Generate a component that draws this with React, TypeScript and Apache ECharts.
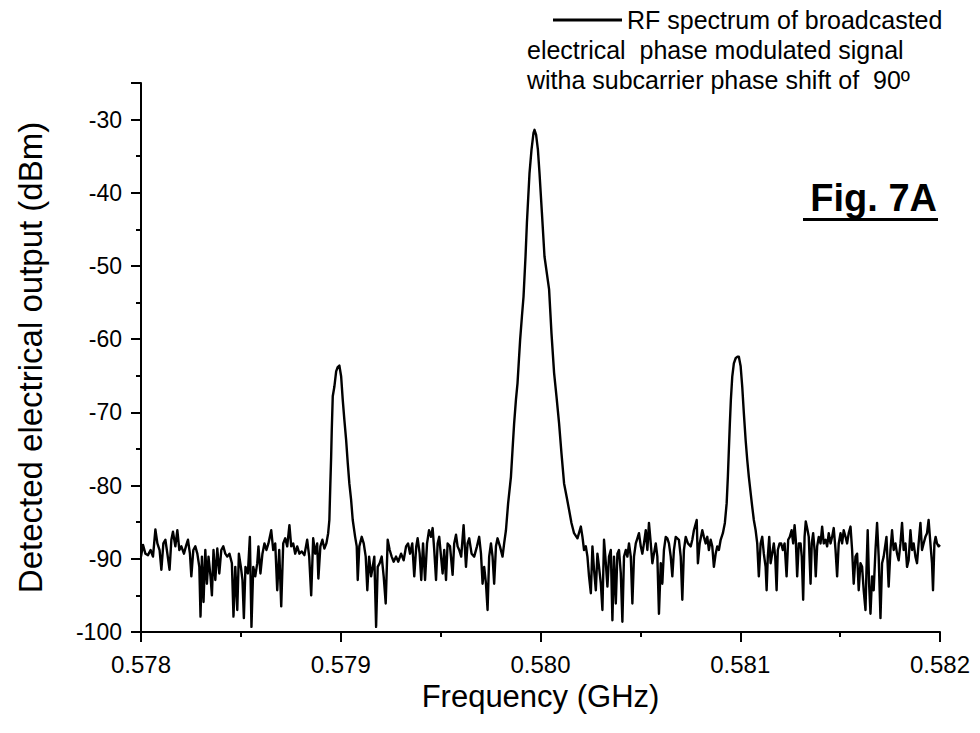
import React, { useEffect, useRef } from "react";
import * as echarts from "echarts";

const FONT = '"Liberation Sans", Arial, Helvetica, sans-serif';

const xTickLabels = ["0.578", "0.579", "0.580", "0.581", "0.582"];
const yTickLabels = ["-100", "-90", "-80", "-70", "-60", "-50", "-40", "-30"];

const legendLines = [
  "RF spectrum of broadcasted",
  "electrical  phase modulated signal",
  "witha subcarrier phase shift of  90º",
];

// Segment A: 0.578 → left sideband peak
const freqA = [0.578000, 0.578010, 0.578022, 0.578035, 0.578048, 0.578060, 0.578072, 0.578082, 0.578093, 0.578102, 0.578112, 0.578122, 0.578132, 0.578143, 0.578152, 0.578160, 0.578172, 0.578182, 0.578192, 0.578202, 0.578215, 0.578227, 0.578235, 0.578245, 0.578252, 0.578262, 0.578272, 0.578282, 0.578292, 0.578298, 0.578305, 0.578313, 0.578322, 0.578330, 0.578338, 0.578348, 0.578355, 0.578363, 0.578372, 0.578382, 0.578392, 0.578402, 0.578412, 0.578422, 0.578432, 0.578443, 0.578455, 0.578463, 0.578472, 0.578482, 0.578490, 0.578500, 0.578508, 0.578515, 0.578523, 0.578535, 0.578545, 0.578553, 0.578562, 0.578572, 0.578582, 0.578588, 0.578598, 0.578608, 0.578618, 0.578628, 0.578638, 0.578652, 0.578662, 0.578672, 0.578682, 0.578692, 0.578702, 0.578712, 0.578722, 0.578732, 0.578743, 0.578752, 0.578762, 0.578772, 0.578782, 0.578793, 0.578805, 0.578818, 0.578832, 0.578842, 0.578852, 0.578862, 0.578872, 0.578882, 0.578888, 0.578898, 0.578908, 0.578918, 0.578928, 0.578937, 0.578943, 0.578948, 0.578952, 0.578955, 0.578960, 0.578968, 0.578977, 0.578985, 0.578993];
const levelA = [-89.7, -88.1, -89.3, -89.5, -88.8, -89.7, -86.0, -87.9, -88.8, -91.5, -87.9, -87.4, -89.3, -91.5, -87.4, -86.3, -88.3, -86.1, -88.8, -88.3, -89.3, -88.1, -87.4, -89.3, -92.4, -88.8, -88.3, -89.3, -91.1, -97.9, -89.7, -95.9, -88.8, -93.4, -89.7, -92.4, -95.0, -88.8, -92.9, -88.6, -92.0, -88.8, -88.3, -89.3, -89.7, -89.3, -90.6, -97.9, -91.1, -97.0, -89.3, -91.1, -92.9, -98.1, -91.1, -92.0, -87.0, -99.3, -91.1, -92.4, -90.6, -88.3, -92.0, -89.3, -87.9, -88.8, -87.9, -86.1, -88.8, -87.9, -94.3, -88.8, -96.5, -87.9, -87.2, -88.3, -85.4, -88.3, -87.9, -89.3, -88.3, -89.3, -89.0, -89.5, -87.4, -89.7, -95.0, -87.2, -89.3, -87.9, -92.7, -88.3, -87.4, -88.6, -87.9, -86.5, -84.7, -79.7, -76.0, -72.4, -67.8, -66.5, -64.4, -63.8, -63.6];

// Segment B: left sideband → carrier rising edge
const freqB = [0.579002, 0.579010, 0.579018, 0.579027, 0.579035, 0.579043, 0.579052, 0.579060, 0.579072, 0.579080, 0.579085, 0.579093, 0.579105, 0.579115, 0.579125, 0.579133, 0.579142, 0.579152, 0.579160, 0.579168, 0.579177, 0.579185, 0.579195, 0.579205, 0.579215, 0.579225, 0.579235, 0.579245, 0.579255, 0.579265, 0.579277, 0.579288, 0.579302, 0.579315, 0.579327, 0.579337, 0.579347, 0.579358, 0.579368, 0.579378, 0.579385, 0.579395, 0.579403, 0.579412, 0.579422, 0.579432, 0.579442, 0.579452, 0.579460, 0.579468, 0.579477, 0.579485, 0.579493, 0.579502, 0.579510, 0.579518, 0.579527, 0.579535, 0.579547, 0.579560, 0.579568, 0.579577, 0.579585, 0.579593, 0.579603, 0.579615, 0.579627, 0.579635, 0.579643, 0.579655, 0.579668, 0.579682, 0.579693, 0.579702, 0.579710, 0.579718, 0.579727, 0.579735, 0.579743, 0.579752, 0.579760, 0.579768, 0.579777, 0.579785, 0.579797, 0.579810, 0.579818, 0.579827, 0.579838, 0.579852, 0.579860, 0.579868, 0.579877, 0.579885, 0.579892, 0.579898, 0.579907, 0.579915];
const levelB = [-65.1, -68.3, -71.0, -73.8, -76.9, -79.7, -82.0, -84.7, -87.0, -88.3, -92.9, -88.3, -87.0, -87.9, -89.7, -94.3, -89.7, -92.4, -91.1, -89.7, -99.3, -91.1, -90.6, -89.7, -92.4, -96.1, -87.4, -88.8, -89.7, -90.4, -89.7, -90.4, -89.3, -90.2, -88.3, -87.9, -89.3, -87.9, -92.4, -88.3, -87.2, -89.3, -92.9, -87.9, -92.9, -87.9, -86.1, -87.0, -85.8, -88.8, -92.9, -87.9, -87.0, -89.7, -92.0, -88.8, -92.9, -87.9, -88.3, -92.2, -87.9, -86.7, -88.3, -88.8, -89.7, -85.4, -91.1, -87.9, -87.2, -89.3, -89.7, -88.3, -87.0, -89.3, -93.4, -91.1, -93.4, -97.0, -89.7, -87.9, -89.7, -93.4, -88.3, -87.2, -88.3, -89.7, -87.9, -86.1, -82.4, -78.8, -75.1, -71.5, -68.3, -66.0, -62.8, -60.1, -56.9, -54.2];

// Carrier peak top
const freqPeak = [0.579925, 0.579932, 0.579945, 0.579955, 0.579965, 0.579970, 0.579978, 0.579987, 0.579995, 0.580007, 0.580020];
const levelPeak = [-48.7, -44.1, -37.3, -34.1, -31.8, -31.4, -32.1, -34.1, -37.3, -42.7, -48.7];

// Segment C: carrier falling edge → right sideband peak
const freqC = [0.580043, 0.580055, 0.580068, 0.580080, 0.580093, 0.580105, 0.580118, 0.580132, 0.580143, 0.580155, 0.580168, 0.580185, 0.580202, 0.580210, 0.580218, 0.580227, 0.580235, 0.580243, 0.580252, 0.580260, 0.580268, 0.580277, 0.580285, 0.580293, 0.580302, 0.580310, 0.580318, 0.580327, 0.580335, 0.580343, 0.580352, 0.580360, 0.580368, 0.580377, 0.580385, 0.580393, 0.580402, 0.580410, 0.580418, 0.580427, 0.580435, 0.580443, 0.580452, 0.580460, 0.580468, 0.580477, 0.580485, 0.580493, 0.580502, 0.580510, 0.580518, 0.580527, 0.580535, 0.580543, 0.580552, 0.580560, 0.580568, 0.580577, 0.580585, 0.580593, 0.580602, 0.580610, 0.580618, 0.580627, 0.580635, 0.580643, 0.580652, 0.580660, 0.580668, 0.580677, 0.580685, 0.580693, 0.580702, 0.580710, 0.580718, 0.580727, 0.580738, 0.580752, 0.580760, 0.580768, 0.580782, 0.580788, 0.580797, 0.580810, 0.580818, 0.580827, 0.580835, 0.580843, 0.580852, 0.580860, 0.580868, 0.580877, 0.580885, 0.580893, 0.580902, 0.580913, 0.580923, 0.580932, 0.580938, 0.580943, 0.580948, 0.580953, 0.580960, 0.580968, 0.580977, 0.580985];
const levelC = [-53.2, -59.2, -64.6, -67.8, -71.5, -75.6, -79.7, -81.7, -83.3, -85.1, -86.5, -87.2, -85.6, -87.0, -88.8, -88.3, -89.7, -92.4, -94.7, -88.3, -91.5, -94.3, -89.3, -91.1, -93.4, -97.0, -87.4, -90.6, -93.8, -89.7, -88.8, -98.4, -89.7, -96.1, -89.3, -88.8, -92.0, -98.6, -89.7, -88.8, -89.7, -87.9, -89.7, -96.1, -89.7, -87.9, -87.2, -86.5, -88.3, -89.3, -87.9, -86.1, -88.8, -85.1, -87.9, -90.6, -89.3, -87.9, -89.7, -97.5, -90.6, -93.4, -88.8, -87.0, -87.2, -87.9, -89.7, -92.4, -88.8, -87.0, -87.2, -87.4, -89.7, -95.6, -88.8, -87.0, -87.9, -88.3, -87.4, -86.1, -84.7, -90.6, -87.9, -86.1, -87.0, -87.9, -87.0, -88.8, -87.4, -88.3, -91.1, -89.3, -88.3, -88.8, -87.4, -86.5, -85.1, -82.4, -78.8, -75.1, -71.5, -68.3, -65.1, -63.3, -62.6, -62.4];

// Segment D: right sideband → 0.582
const freqD = [0.580993, 0.581002, 0.581010, 0.581018, 0.581027, 0.581035, 0.581043, 0.581052, 0.581060, 0.581068, 0.581077, 0.581085, 0.581093, 0.581102, 0.581110, 0.581118, 0.581127, 0.581132, 0.581138, 0.581145, 0.581152, 0.581160, 0.581168, 0.581175, 0.581182, 0.581188, 0.581197, 0.581205, 0.581213, 0.581222, 0.581232, 0.581240, 0.581248, 0.581257, 0.581265, 0.581272, 0.581278, 0.581285, 0.581293, 0.581302, 0.581308, 0.581315, 0.581322, 0.581328, 0.581337, 0.581343, 0.581352, 0.581358, 0.581365, 0.581372, 0.581378, 0.581385, 0.581393, 0.581402, 0.581410, 0.581418, 0.581427, 0.581435, 0.581443, 0.581452, 0.581460, 0.581468, 0.581477, 0.581485, 0.581493, 0.581502, 0.581510, 0.581518, 0.581527, 0.581535, 0.581543, 0.581552, 0.581560, 0.581568, 0.581577, 0.581585, 0.581593, 0.581602, 0.581610, 0.581618, 0.581627, 0.581632, 0.581638, 0.581645, 0.581652, 0.581660, 0.581668, 0.581677, 0.581685, 0.581693, 0.581702, 0.581710, 0.581718, 0.581732, 0.581743, 0.581752, 0.581760, 0.581768, 0.581777, 0.581785, 0.581793, 0.581802, 0.581810, 0.581818, 0.581827, 0.581835, 0.581843, 0.581852, 0.581860, 0.581868, 0.581877, 0.581885, 0.581893, 0.581902, 0.581910, 0.581918, 0.581927, 0.581935, 0.581943, 0.581952, 0.581960, 0.581965, 0.581972, 0.581978, 0.581985, 0.581993, 0.582000];
const levelD = [-62.4, -63.7, -66.5, -70.1, -73.8, -76.5, -78.8, -81.0, -82.9, -84.7, -86.1, -87.9, -92.4, -87.9, -87.0, -89.3, -91.1, -94.3, -89.7, -87.0, -90.6, -89.3, -87.9, -89.7, -94.3, -88.8, -87.9, -87.9, -88.8, -87.9, -92.4, -87.4, -87.0, -86.1, -87.9, -85.4, -87.4, -92.4, -87.9, -87.9, -89.7, -95.6, -87.0, -84.9, -86.1, -87.0, -93.4, -87.9, -86.5, -88.8, -92.4, -88.3, -87.0, -87.9, -85.6, -87.9, -87.4, -88.3, -86.5, -87.9, -87.0, -85.8, -88.8, -92.4, -87.9, -86.5, -87.9, -86.1, -87.0, -87.9, -86.5, -85.6, -88.8, -93.4, -89.7, -89.3, -94.3, -90.6, -91.1, -94.3, -97.0, -91.5, -86.1, -93.4, -97.5, -92.4, -94.3, -88.8, -85.1, -89.7, -98.1, -90.6, -89.7, -87.0, -93.8, -88.8, -86.1, -88.8, -87.9, -89.3, -90.2, -87.9, -85.1, -88.8, -87.9, -91.1, -90.2, -86.1, -88.8, -87.9, -89.7, -90.6, -87.9, -85.1, -88.8, -87.9, -87.0, -86.5, -84.7, -87.9, -90.6, -94.3, -87.9, -87.0, -87.9, -88.3, -88.1];

function pairs(f: number[], v: number[]): number[][] {
  const out: number[][] = [];
  for (let i = 0; i < Math.min(f.length, v.length); i++) out.push([f[i], v[i]]);
  return out;
}

export default function App() {
  const ref = useRef<HTMLDivElement>(null);

  useEffect(() => {
    if (!ref.current) return;
    const chart = echarts.init(ref.current, null, { renderer: "svg" });
    const data = [
      ...pairs(freqA, levelA),
      ...pairs(freqB, levelB),
      ...pairs(freqPeak, levelPeak),
      ...pairs(freqC, levelC),
      ...pairs(freqD, levelD),
    ];
    const lineStyle = { color: "#000", width: 2 };
    const legendText = { fontFamily: FONT, fontSize: 25, fill: "#000", verticalAlign: "middle" };
    const option: any = {
      animation: false,
      backgroundColor: "#ffffff",
      grid: { left: 141, right: 40, top: 83, bottom: 101, containLabel: false, outerBoundsMode: "none" },
      xAxis: {
        type: "value",
        min: 0.578,
        max: 0.582,
        interval: 0.001,
        name: "Frequency (GHz)",
        nameLocation: "middle",
        nameGap: 36,
        nameTextStyle: { fontFamily: FONT, fontSize: 31, color: "#000", verticalAlign: "top" },
        axisLine: { show: true, onZero: false, lineStyle },
        axisTick: { show: true, length: 10, lineStyle },
        minorTick: { show: true, splitNumber: 2, length: 5, lineStyle },
        splitLine: { show: false },
        axisLabel: {
          fontFamily: FONT,
          fontSize: 24,
          color: "#000",
          margin: 20,
          formatter: (v: number) => {
            const idx = Math.round((v - 0.578) / 0.001);
            return xTickLabels[idx] ?? "";
          },
        },
      },
      yAxis: {
        type: "value",
        min: -100,
        max: -25,
        interval: 10,
        name: "Detected electrical output (dBm)",
        nameLocation: "middle",
        nameGap: 94,
        nameTextStyle: { fontFamily: FONT, fontSize: 33, color: "#000" },
        axisLine: { show: true, onZero: false, lineStyle },
        axisTick: { show: true, length: 10, lineStyle },
        minorTick: { show: true, splitNumber: 2, length: 5, lineStyle },
        splitLine: { show: false },
        axisLabel: {
          fontFamily: FONT,
          fontSize: 23,
          color: "#000",
          margin: 19,
          showMaxLabel: false,
          formatter: (v: number) => {
            const idx = Math.round((v + 100) / 10);
            if (Math.abs(v + 100 - idx * 10) > 0.01) return "";
            return yTickLabels[idx] ?? "";
          },
        },
      },
      series: [
        {
          type: "line",
          name: legendLines.join(" "),
          data,
          showSymbol: false,
          symbol: "none",
          lineStyle: { color: "#000", width: 2.4, join: "round" },
          clip: true,
        },
      ],
      graphic: [
        { type: "line", shape: { x1: 553, y1: 20, x2: 622, y2: 20 }, style: { stroke: "#000", lineWidth: 3 } },
        { type: "text", x: 627, y: 20, style: { ...legendText, text: legendLines[0], align: "left" } },
        { type: "text", x: 527, y: 50, style: { ...legendText, text: legendLines[1], align: "left" } },
        { type: "text", x: 527, y: 80, style: { ...legendText, text: legendLines[2], align: "left" } },
        {
          type: "text", x: 937, y: 198,
          style: { text: "Fig. 7A", fontFamily: FONT, fontSize: 38, fontWeight: "bold", fill: "#000", align: "right", verticalAlign: "middle" },
        },
        { type: "rect", shape: { x: 803, y: 218, width: 135, height: 3 }, style: { fill: "#000" } },
      ],
    };
    chart.setOption(option);
    return () => chart.dispose();
  }, []);

  return (
    <div
      ref={ref}
      style={{ position: "fixed", left: 0, top: 0, width: 980, height: 733, background: "#fff" }}
    />
  );
}
